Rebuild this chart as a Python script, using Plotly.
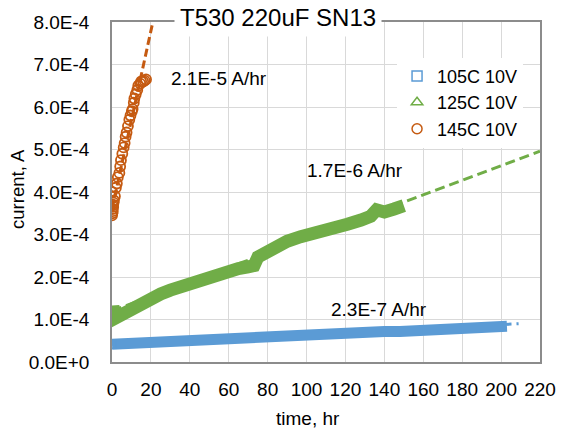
import plotly.graph_objects as go

# ---------------- data ----------------
series_names = ["105C 10V", "125C 10V", "145C 10V"]

t_105 = [0, 10, 20, 30, 40, 50, 60, 70, 80, 90, 100, 110, 120, 127, 132, 140, 148,
         160, 170, 180, 190, 200, 203]
i_105 = [4.2e-5, 4.45e-5, 4.65e-5, 4.85e-5, 5.05e-5, 5.25e-5, 5.5e-5, 5.7e-5, 5.95e-5,
         6.2e-5, 6.5e-5, 6.75e-5, 7.0e-5, 7.4e-5, 7.3e-5, 7.15e-5, 7.2e-5, 7.55e-5,
         7.8e-5, 8.0e-5, 8.15e-5, 8.35e-5, 8.4e-5]

t_125 = [0, 0.5, 2, 5, 10, 15, 20, 25, 30, 35, 40, 45, 50, 55, 60, 65, 70, 73, 75, 80,
         85, 90, 97, 103, 109, 115, 121, 128, 133, 136, 140, 145, 150]
i_125 = [1.12e-4, 1.3e-4, 1.04e-4, 1.12e-4, 1.25e-4, 1.38e-4, 1.5e-4, 1.6e-4, 1.69e-4,
         1.77e-4, 1.85e-4, 1.93e-4, 2.0e-4, 2.08e-4, 2.15e-4, 2.2e-4, 2.24e-4, 2.27e-4,
         2.47e-4, 2.62e-4, 2.75e-4, 2.84e-4, 2.95e-4, 3.01e-4, 3.08e-4, 3.15e-4, 3.24e-4,
         3.34e-4, 3.43e-4, 3.58e-4, 3.53e-4, 3.6e-4, 3.68e-4]

t_145 = [0, 0.2, 0.4, 0.3, 0.6, 0.5, 0.8, 0, 1.0, 1.5, 2, 2.5, 3, 3.8, 4.2, 4.6, 5.3,
         6, 6.5, 7, 7.5, 8.2, 8.9, 9.5, 10.2, 10.6, 11.2, 11.5, 12.2, 13, 13.5, 14.5,
         15, 16, 16.8, 17.5]
i_145 = [3.45e-4, 3.5e-4, 3.55e-4, 3.6e-4, 3.65e-4, 3.7e-4, 3.75e-4, 4.0e-4, 3.8e-4,
         3.9e-4, 4.1e-4, 4.2e-4, 4.35e-4, 4.45e-4, 4.6e-4, 4.75e-4, 4.9e-4, 5.05e-4,
         5.15e-4, 5.3e-4, 5.4e-4, 5.55e-4, 5.7e-4, 5.8e-4, 5.9e-4, 5.95e-4, 6.1e-4,
         6.2e-4, 6.3e-4, 6.4e-4, 6.5e-4, 6.55e-4, 6.6e-4, 6.6e-4, 6.62e-4, 6.65e-4]

# linear trend lines (end points)
trend_105_t = [0, 209]
trend_105_i = [4.2e-5, 9.0e-5]
trend_125_t = [0, 220]
trend_125_i = [1.2e-4, 4.96e-4]
trend_145_t = [0, 21]
trend_145_i = [3.6e-4, 8.0e-4]

slope_labels = ["2.3E-7 A/hr", "1.7E-6 A/hr", "2.1E-5 A/hr"]
slope_label_t = [137, 125, 55]
slope_label_i = [1.24e-4, 4.5e-4, 6.66e-4]

x_ticks = list(range(0, 221, 20))
y_tickvals = [0, 1e-4, 2e-4, 3e-4, 4e-4, 5e-4, 6e-4, 7e-4, 8e-4]
y_ticktext = ["0.0E+0", "1.0E-4", "2.0E-4", "3.0E-4", "4.0E-4", "5.0E-4", "6.0E-4",
              "7.0E-4", "8.0E-4"]

# ---------------- styles ----------------
BLUE = "#5B9BD5"
GREEN = "#70AD47"
ORANGE = "#C55A11"
FONT = "Liberation Sans, Arial, sans-serif"

fig = go.Figure()

# trend lines underneath
fig.add_trace(go.Scatter(x=trend_105_t, y=trend_105_i, mode="lines", showlegend=False,
                         line=dict(color=BLUE, width=3, dash="10px,5px"), hoverinfo="skip"))
fig.add_trace(go.Scatter(x=trend_125_t, y=trend_125_i, mode="lines", showlegend=False,
                         line=dict(color=GREEN, width=3, dash="10px,5px"), hoverinfo="skip"))
fig.add_trace(go.Scatter(x=trend_145_t, y=trend_145_i, mode="lines", showlegend=False,
                         line=dict(color=ORANGE, width=3, dash="8px,4px"), hoverinfo="skip"))

# data
fig.add_trace(go.Scatter(x=t_105, y=i_105, mode="lines", showlegend=False,
                         line=dict(color=BLUE, width=11)))
fig.add_trace(go.Scatter(x=t_105[:1], y=i_105[:1], mode="markers", showlegend=False,
                         marker=dict(symbol="square-open", size=8, color=BLUE,
                                     line=dict(width=1.5, color=BLUE))))
fig.add_trace(go.Scatter(x=t_125, y=i_125, mode="lines", showlegend=False,
                         line=dict(color=GREEN, width=13)))
fig.add_trace(go.Scatter(x=t_145, y=i_145, mode="markers", showlegend=False,
                         marker=dict(symbol="circle-open", size=10, color=ORANGE,
                                     line=dict(width=1.8, color=ORANGE))))

# legend entries
for name, sym, col in zip(series_names, ["square-open", "triangle-up-open", "circle-open"],
                          [BLUE, GREEN, ORANGE]):
    fig.add_trace(go.Scatter(x=[None], y=[None], mode="markers", name=name,
                             marker=dict(symbol=sym, size=10, color=col,
                                         line=dict(width=1.5, color=col))))

annotations = []
for txt, tx, iy in zip(slope_labels, slope_label_t, slope_label_i):
    annotations.append(dict(x=tx, y=iy, xref="x", yref="y", text=txt, showarrow=False,
                            xanchor="center", yanchor="middle",
                            font=dict(size=19, color="#000000", family=FONT)))
annotations.append(dict(x=0.3867, y=1.0147, xref="paper", yref="paper",
                        text="T530 220uF SN13", showarrow=False, bgcolor="white",
                        xanchor="center", yanchor="middle",
                        borderpad=5, font=dict(size=24, color="#000000", family=FONT)))
annotations.append(dict(x=0.458, y=-0.165, xref="paper", yref="paper", text="time, hr",
                        xanchor="center", yanchor="middle",
                        showarrow=False, font=dict(size=19, color="#000000", family=FONT)))
annotations.append(dict(x=-0.2196, y=0.509, xref="paper", yref="paper", text="current, A",
                        textangle=-90, showarrow=False, xanchor="center", yanchor="middle",
                        font=dict(size=18.5, color="#000000", family=FONT)))

fig.update_layout(
    width=568, height=430,
    margin=dict(l=112, r=28, t=22, b=68),
    paper_bgcolor="white", plot_bgcolor="white",
    font=dict(family=FONT, size=19, color="#000000"),
    showlegend=True,
    legend=dict(x=0.666, y=0.895, xanchor="left", yanchor="top", bgcolor="white",
                font=dict(size=18, family=FONT, color="#000000"), itemwidth=30,
                borderwidth=0),
    annotations=annotations,
)
fig.update_xaxes(range=[0, 220], tickvals=x_ticks, showgrid=True, gridcolor="#D9D9D9",
                 gridwidth=1, showline=True, linecolor="#8C8C8C", linewidth=1.5,
                 mirror=True, zeroline=False, ticks="", ticklabelstandoff=9,
                 tickfont=dict(size=19, family=FONT, color="#000000"))
fig.update_yaxes(range=[0, 8e-4], tickvals=y_tickvals, ticktext=y_ticktext, showgrid=True,
                 gridcolor="#D9D9D9", gridwidth=1, showline=True, linecolor="#8C8C8C",
                 linewidth=1.5, mirror=True, zeroline=False, ticks="",
                 ticklabelstandoff=17,
                 tickfont=dict(size=19, family=FONT, color="#000000"))

fig.write_html("out.html")
